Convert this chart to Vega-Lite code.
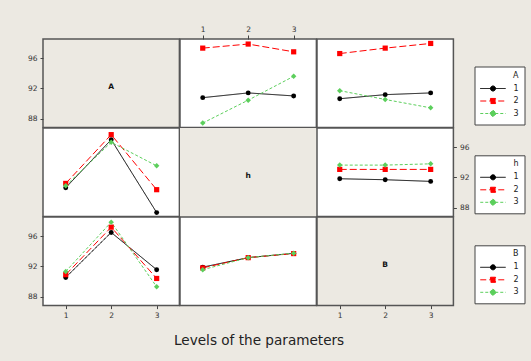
{
  "$schema": "https://vega.github.io/schema/vega-lite/v6.json",
  "background": "#ECE9E2",
  "padding": {"left": 26, "top": 24, "right": 15, "bottom": 20},
  "datasets": {
    "d": [
      {"panel": "r1c2", "lev": "1", "x": 1, "y": 90.77},
      {"panel": "r1c2", "lev": "1", "x": 2, "y": 91.4},
      {"panel": "r1c2", "lev": "1", "x": 3, "y": 91.0},
      {"panel": "r1c2", "lev": "2", "x": 1, "y": 97.34},
      {"panel": "r1c2", "lev": "2", "x": 2, "y": 97.88},
      {"panel": "r1c2", "lev": "2", "x": 3, "y": 96.85},
      {"panel": "r1c2", "lev": "3", "x": 1, "y": 87.4},
      {"panel": "r1c2", "lev": "3", "x": 2, "y": 90.44},
      {"panel": "r1c2", "lev": "3", "x": 3, "y": 93.6},
      {"panel": "r1c3", "lev": "1", "x": 1, "y": 90.63},
      {"panel": "r1c3", "lev": "1", "x": 2, "y": 91.17},
      {"panel": "r1c3", "lev": "1", "x": 3, "y": 91.4},
      {"panel": "r1c3", "lev": "2", "x": 1, "y": 96.62},
      {"panel": "r1c3", "lev": "2", "x": 2, "y": 97.34},
      {"panel": "r1c3", "lev": "2", "x": 3, "y": 97.96},
      {"panel": "r1c3", "lev": "3", "x": 1, "y": 91.7},
      {"panel": "r1c3", "lev": "3", "x": 2, "y": 90.53},
      {"panel": "r1c3", "lev": "3", "x": 3, "y": 89.42},
      {"panel": "r2c1", "lev": "1", "x": 1, "y": 90.63},
      {"panel": "r2c1", "lev": "1", "x": 2, "y": 97.0},
      {"panel": "r2c1", "lev": "1", "x": 3, "y": 87.33},
      {"panel": "r2c1", "lev": "2", "x": 1, "y": 91.2},
      {"panel": "r2c1", "lev": "2", "x": 2, "y": 97.67},
      {"panel": "r2c1", "lev": "2", "x": 3, "y": 90.37},
      {"panel": "r2c1", "lev": "3", "x": 1, "y": 90.9},
      {"panel": "r2c1", "lev": "3", "x": 2, "y": 96.66},
      {"panel": "r2c1", "lev": "3", "x": 3, "y": 93.53},
      {"panel": "r2c3", "lev": "1", "x": 1, "y": 91.82},
      {"panel": "r2c3", "lev": "1", "x": 2, "y": 91.69},
      {"panel": "r2c3", "lev": "1", "x": 3, "y": 91.47},
      {"panel": "r2c3", "lev": "2", "x": 1, "y": 93.06},
      {"panel": "r2c3", "lev": "2", "x": 2, "y": 93.06},
      {"panel": "r2c3", "lev": "2", "x": 3, "y": 93.06},
      {"panel": "r2c3", "lev": "3", "x": 1, "y": 93.63},
      {"panel": "r2c3", "lev": "3", "x": 2, "y": 93.63},
      {"panel": "r2c3", "lev": "3", "x": 3, "y": 93.8},
      {"panel": "r3c1", "lev": "1", "x": 1, "y": 90.53},
      {"panel": "r3c1", "lev": "1", "x": 2, "y": 96.5},
      {"panel": "r3c1", "lev": "1", "x": 3, "y": 91.56},
      {"panel": "r3c1", "lev": "2", "x": 1, "y": 90.9},
      {"panel": "r3c1", "lev": "2", "x": 2, "y": 97.2},
      {"panel": "r3c1", "lev": "2", "x": 3, "y": 90.4},
      {"panel": "r3c1", "lev": "3", "x": 1, "y": 91.33},
      {"panel": "r3c1", "lev": "3", "x": 2, "y": 97.87},
      {"panel": "r3c1", "lev": "3", "x": 3, "y": 89.3},
      {"panel": "r3c2", "lev": "1", "x": 1, "y": 91.9},
      {"panel": "r3c2", "lev": "1", "x": 2, "y": 93.16},
      {"panel": "r3c2", "lev": "1", "x": 3, "y": 93.73},
      {"panel": "r3c2", "lev": "2", "x": 1, "y": 91.8},
      {"panel": "r3c2", "lev": "2", "x": 2, "y": 93.16},
      {"panel": "r3c2", "lev": "2", "x": 3, "y": 93.7},
      {"panel": "r3c2", "lev": "3", "x": 1, "y": 91.56},
      {"panel": "r3c2", "lev": "3", "x": 2, "y": 93.16},
      {"panel": "r3c2", "lev": "3", "x": 3, "y": 93.75}
    ]
  },
  "columns": 3,
  "spacing": 0,
  "bounds": "flush",
  "resolve": {
    "scale": {"color": "independent", "shape": "independent", "strokeDash": "independent", "size": "independent", "fill": "independent", "stroke": "independent"},
    "legend": {"color": "independent", "shape": "independent", "strokeDash": "independent", "size": "independent", "fill": "independent", "stroke": "independent"}
  },
  "concat": [
    {
      "width": 136.4, "height": 88.6,
      "view": {"fill": "#ECE9E2"},
      "data": {"values": [{"label": "A"}]},
      "mark": {"type": "text", "fontWeight": "bold", "fontSize": 7.5, "font": "DejaVu Sans", "color": "#111", "dy": -1},
      "encoding": {
        "text": {"field": "label"},
        "y": {"datum": 92, "type": "quantitative", "scale": {"domain": [86.8, 98.55]}, "axis": {"orient": "left", "values": [88, 92, 96], "title": null}}
      }
    },
    {
      "width": 136.4, "height": 88.6,
      "data": {"name": "d"},
      "transform": [{"filter": "datum.panel == 'r1c2'"}],
      "encoding": {
        "x": {"field": "x", "type": "quantitative", "scale": {"domain": [0.5, 3.5]}, "axis": {"orient": "top", "values": [1, 2, 3], "format": "d", "title": null, "tickSize": 4, "labelPadding": 2}},
        "y": {"field": "y", "type": "quantitative", "scale": {"domain": [86.8, 98.55]}, "axis": null},
        "color": {"field": "lev", "type": "nominal", "scale": {"domain": ["1", "2", "3"], "range": ["#000000", "#FF0000", "#5CCF5C"]}, "legend": null}
      },
      "layer": [
        {"mark": {"type": "line", "strokeWidth": 1}, "encoding": {"strokeDash": {"field": "lev", "type": "nominal", "scale": {"domain": ["1", "2", "3"], "range": [[1, 0], [7, 3], [3, 2]]}, "legend": null}}},
        {"mark": {"type": "point", "filled": true, "opacity": 1}, "encoding": {"shape": {"field": "lev", "type": "nominal", "scale": {"domain": ["1", "2", "3"], "range": ["circle", "square", "diamond"]}, "legend": null}, "size": {"field": "lev", "type": "nominal", "scale": {"domain": ["1", "2", "3"], "range": [24, 30, 42]}, "legend": null}}}
      ]
    },
    {
      "width": 136.4, "height": 88.6,
      "view": {"fill": "white"},
      "resolve": {"scale": {"color": "independent", "shape": "independent", "strokeDash": "independent", "size": "independent", "stroke": "independent"}},
      "layer": [
        {
          "data": {"name": "d"},
          "transform": [{"filter": "datum.panel == 'r1c3'"}],
          "mark": {"type": "line", "strokeWidth": 1},
          "encoding": {
            "x": {"field": "x", "type": "quantitative", "scale": {"domain": [0.5, 3.5]}, "axis": null},
            "y": {"field": "y", "type": "quantitative", "scale": {"domain": [86.8, 98.55]}, "axis": null},
            "color": {"field": "lev", "type": "nominal", "scale": {"domain": ["1", "2", "3"], "range": ["#000000", "#FF0000", "#5CCF5C"]}, "legend": null},
            "strokeDash": {"field": "lev", "type": "nominal", "scale": {"domain": ["1", "2", "3"], "range": [[1, 0], [7, 3], [3, 2]]}, "legend": null}
          }
        },
        {
          "data": {"name": "d"},
          "transform": [{"filter": "datum.panel == 'r1c3'"}],
          "mark": {"type": "point", "filled": true, "opacity": 1},
          "encoding": {
            "x": {"field": "x", "type": "quantitative", "scale": {"domain": [0.5, 3.5]}, "axis": null},
            "y": {"field": "y", "type": "quantitative", "scale": {"domain": [86.8, 98.55]}, "axis": null},
            "color": {"field": "lev", "type": "nominal", "scale": {"domain": ["1", "2", "3"], "range": ["#000000", "#FF0000", "#5CCF5C"]}, "legend": null},
            "shape": {"field": "lev", "type": "nominal", "scale": {"domain": ["1", "2", "3"], "range": ["circle", "square", "diamond"]}, "legend": null},
            "size": {"field": "lev", "type": "nominal", "scale": {"domain": ["1", "2", "3"], "range": [24, 30, 42]}, "legend": null}
          }
        },
        {
          "data": {"values": []},
          "mark": {"type": "point", "filled": true, "opacity": 1, "strokeWidth": 1},
          "encoding": {
            "color": {"field": "lev", "type": "nominal", "scale": {"domain": ["1", "2", "3"], "range": ["#000000", "#FF0000", "#5CCF5C"]}, "legend": {"orient": "none", "legendX": 157.5, "legendY": 27.5, "title": "A"}},
            "stroke": {"field": "lev", "type": "nominal", "scale": {"domain": ["1", "2", "3"], "range": ["#000000", "#FF0000", "#5CCF5C"]}, "legend": {"orient": "none", "legendX": 157.5, "legendY": 27.5, "title": "A"}},
            "shape": {"field": "lev", "type": "nominal", "scale": {"domain": ["1", "2", "3"], "range": ["M-1,0L1,0M0.2,0A0.2,0.2,0,1,1,-0.2,0A0.2,0.2,0,1,1,0.2,0Z", "M-1,0L1,0M-0.2,-0.2L0.2,-0.2L0.2,0.2L-0.2,0.2Z", "M-1,0L1,0M0,-0.27L0.27,0L0,0.27L-0.27,0Z"]}, "legend": {"orient": "none", "legendX": 157.5, "legendY": 27.5, "title": "A"}},
            "strokeDash": {"field": "lev", "type": "nominal", "scale": {"domain": ["1", "2", "3"], "range": [[1, 0], [6, 3], [3, 2]]}, "legend": {"orient": "none", "legendX": 157.5, "legendY": 27.5, "title": "A"}}
          }
        }
      ]
    },
    {
      "width": 136.4, "height": 88.6,
      "data": {"name": "d"},
      "transform": [{"filter": "datum.panel == 'r2c1'"}],
      "encoding": {
        "x": {"field": "x", "type": "quantitative", "scale": {"domain": [0.5, 3.5]}, "axis": null},
        "y": {"field": "y", "type": "quantitative", "scale": {"domain": [86.8, 98.55]}, "axis": null},
        "color": {"field": "lev", "type": "nominal", "scale": {"domain": ["1", "2", "3"], "range": ["#000000", "#FF0000", "#5CCF5C"]}, "legend": null}
      },
      "layer": [
        {"mark": {"type": "line", "strokeWidth": 1}, "encoding": {"strokeDash": {"field": "lev", "type": "nominal", "scale": {"domain": ["1", "2", "3"], "range": [[1, 0], [7, 3], [3, 2]]}, "legend": null}}},
        {"mark": {"type": "point", "filled": true, "opacity": 1}, "encoding": {"shape": {"field": "lev", "type": "nominal", "scale": {"domain": ["1", "2", "3"], "range": ["circle", "square", "diamond"]}, "legend": null}, "size": {"field": "lev", "type": "nominal", "scale": {"domain": ["1", "2", "3"], "range": [24, 30, 42]}, "legend": null}}}
      ]
    },
    {
      "width": 136.4, "height": 88.6,
      "view": {"fill": "#ECE9E2"},
      "data": {"values": [{"label": "h"}]},
      "mark": {"type": "text", "fontWeight": "bold", "fontSize": 7.5, "font": "DejaVu Sans", "color": "#111", "dy": 4},
      "encoding": {"text": {"field": "label"}}
    },
    {
      "width": 136.4, "height": 88.6,
      "view": {"fill": "white"},
      "resolve": {"scale": {"color": "independent", "shape": "independent", "strokeDash": "independent", "size": "independent", "stroke": "independent"}},
      "layer": [
        {
          "data": {"name": "d"},
          "transform": [{"filter": "datum.panel == 'r2c3'"}],
          "mark": {"type": "line", "strokeWidth": 1},
          "encoding": {
            "x": {"field": "x", "type": "quantitative", "scale": {"domain": [0.5, 3.5]}, "axis": null},
            "y": {"field": "y", "type": "quantitative", "scale": {"domain": [86.8, 98.55]}, "axis": {"orient": "right", "values": [88, 92, 96], "title": null}},
            "color": {"field": "lev", "type": "nominal", "scale": {"domain": ["1", "2", "3"], "range": ["#000000", "#FF0000", "#5CCF5C"]}, "legend": null},
            "strokeDash": {"field": "lev", "type": "nominal", "scale": {"domain": ["1", "2", "3"], "range": [[1, 0], [7, 3], [3, 2]]}, "legend": null}
          }
        },
        {
          "data": {"name": "d"},
          "transform": [{"filter": "datum.panel == 'r2c3'"}],
          "mark": {"type": "point", "filled": true, "opacity": 1},
          "encoding": {
            "x": {"field": "x", "type": "quantitative", "scale": {"domain": [0.5, 3.5]}, "axis": null},
            "y": {"field": "y", "type": "quantitative", "scale": {"domain": [86.8, 98.55]}, "axis": {"orient": "right", "values": [88, 92, 96], "title": null}},
            "color": {"field": "lev", "type": "nominal", "scale": {"domain": ["1", "2", "3"], "range": ["#000000", "#FF0000", "#5CCF5C"]}, "legend": null},
            "shape": {"field": "lev", "type": "nominal", "scale": {"domain": ["1", "2", "3"], "range": ["circle", "square", "diamond"]}, "legend": null},
            "size": {"field": "lev", "type": "nominal", "scale": {"domain": ["1", "2", "3"], "range": [24, 30, 42]}, "legend": null}
          }
        },
        {
          "data": {"values": []},
          "mark": {"type": "point", "filled": true, "opacity": 1, "strokeWidth": 1},
          "encoding": {
            "color": {"field": "lev", "type": "nominal", "scale": {"domain": ["1", "2", "3"], "range": ["#000000", "#FF0000", "#5CCF5C"]}, "legend": {"orient": "none", "legendX": 157.5, "legendY": 27.3, "title": "h"}},
            "stroke": {"field": "lev", "type": "nominal", "scale": {"domain": ["1", "2", "3"], "range": ["#000000", "#FF0000", "#5CCF5C"]}, "legend": {"orient": "none", "legendX": 157.5, "legendY": 27.3, "title": "h"}},
            "shape": {"field": "lev", "type": "nominal", "scale": {"domain": ["1", "2", "3"], "range": ["M-1,0L1,0M0.2,0A0.2,0.2,0,1,1,-0.2,0A0.2,0.2,0,1,1,0.2,0Z", "M-1,0L1,0M-0.2,-0.2L0.2,-0.2L0.2,0.2L-0.2,0.2Z", "M-1,0L1,0M0,-0.27L0.27,0L0,0.27L-0.27,0Z"]}, "legend": {"orient": "none", "legendX": 157.5, "legendY": 27.3, "title": "h"}},
            "strokeDash": {"field": "lev", "type": "nominal", "scale": {"domain": ["1", "2", "3"], "range": [[1, 0], [6, 3], [3, 2]]}, "legend": {"orient": "none", "legendX": 157.5, "legendY": 27.3, "title": "h"}}
          }
        }
      ]
    },
    {
      "width": 136.4, "height": 88.6,
      "data": {"name": "d"},
      "transform": [{"filter": "datum.panel == 'r3c1'"}],
      "encoding": {
        "x": {"field": "x", "type": "quantitative", "scale": {"domain": [0.5, 3.5]}, "axis": {"orient": "bottom", "values": [1, 2, 3], "format": "d", "title": null}},
        "y": {"field": "y", "type": "quantitative", "scale": {"domain": [86.8, 98.55]}, "axis": {"orient": "left", "values": [88, 92, 96], "title": null}},
        "color": {"field": "lev", "type": "nominal", "scale": {"domain": ["1", "2", "3"], "range": ["#000000", "#FF0000", "#5CCF5C"]}, "legend": null}
      },
      "layer": [
        {"mark": {"type": "line", "strokeWidth": 1}, "encoding": {"strokeDash": {"field": "lev", "type": "nominal", "scale": {"domain": ["1", "2", "3"], "range": [[1, 0], [7, 3], [3, 2]]}, "legend": null}}},
        {"mark": {"type": "point", "filled": true, "opacity": 1}, "encoding": {"shape": {"field": "lev", "type": "nominal", "scale": {"domain": ["1", "2", "3"], "range": ["circle", "square", "diamond"]}, "legend": null}, "size": {"field": "lev", "type": "nominal", "scale": {"domain": ["1", "2", "3"], "range": [24, 30, 42]}, "legend": null}}}
      ]
    },
    {
      "width": 136.4, "height": 88.6,
      "view": {"fill": "white"},
      "resolve": {"scale": {"color": "independent", "shape": "independent", "strokeDash": "independent", "size": "independent", "stroke": "independent"}},
      "layer": [
        {
          "data": {"name": "d"},
          "transform": [{"filter": "datum.panel == 'r3c2'"}],
          "mark": {"type": "line", "strokeWidth": 1},
          "encoding": {
            "x": {"field": "x", "type": "quantitative", "scale": {"domain": [0.5, 3.5]}, "axis": {"orient": "bottom", "labels": false, "ticks": false, "title": "Levels of the parameters", "titleFontSize": 13.6, "titleFontWeight": "normal", "titleColor": "#222", "titlePadding": 28, "titleX": 78.6, "titleBaseline": "top"}},
            "y": {"field": "y", "type": "quantitative", "scale": {"domain": [86.8, 98.55]}, "axis": null},
            "color": {"field": "lev", "type": "nominal", "scale": {"domain": ["1", "2", "3"], "range": ["#000000", "#FF0000", "#5CCF5C"]}, "legend": null},
            "strokeDash": {"field": "lev", "type": "nominal", "scale": {"domain": ["1", "2", "3"], "range": [[1, 0], [7, 3], [3, 2]]}, "legend": null}
          }
        },
        {
          "data": {"name": "d"},
          "transform": [{"filter": "datum.panel == 'r3c2'"}],
          "mark": {"type": "point", "filled": true, "opacity": 1},
          "encoding": {
            "x": {"field": "x", "type": "quantitative", "scale": {"domain": [0.5, 3.5]}},
            "y": {"field": "y", "type": "quantitative", "scale": {"domain": [86.8, 98.55]}, "axis": null},
            "color": {"field": "lev", "type": "nominal", "scale": {"domain": ["1", "2", "3"], "range": ["#000000", "#FF0000", "#5CCF5C"]}, "legend": null},
            "shape": {"field": "lev", "type": "nominal", "scale": {"domain": ["1", "2", "3"], "range": ["circle", "square", "diamond"]}, "legend": null},
            "size": {"field": "lev", "type": "nominal", "scale": {"domain": ["1", "2", "3"], "range": [24, 30, 42]}, "legend": null}
          }
        },
        {
          "data": {"values": []},
          "mark": {"type": "point", "filled": true, "opacity": 1, "strokeWidth": 1},
          "encoding": {
            "color": {"field": "lev", "type": "nominal", "scale": {"domain": ["1", "2", "3"], "range": ["#000000", "#FF0000", "#5CCF5C"]}, "legend": {"orient": "none", "legendX": 294.5, "legendY": 28.3, "title": "B"}},
            "stroke": {"field": "lev", "type": "nominal", "scale": {"domain": ["1", "2", "3"], "range": ["#000000", "#FF0000", "#5CCF5C"]}, "legend": {"orient": "none", "legendX": 294.5, "legendY": 28.3, "title": "B"}},
            "shape": {"field": "lev", "type": "nominal", "scale": {"domain": ["1", "2", "3"], "range": ["M-1,0L1,0M0.2,0A0.2,0.2,0,1,1,-0.2,0A0.2,0.2,0,1,1,0.2,0Z", "M-1,0L1,0M-0.2,-0.2L0.2,-0.2L0.2,0.2L-0.2,0.2Z", "M-1,0L1,0M0,-0.27L0.27,0L0,0.27L-0.27,0Z"]}, "legend": {"orient": "none", "legendX": 294.5, "legendY": 28.3, "title": "B"}},
            "strokeDash": {"field": "lev", "type": "nominal", "scale": {"domain": ["1", "2", "3"], "range": [[1, 0], [6, 3], [3, 2]]}, "legend": {"orient": "none", "legendX": 294.5, "legendY": 28.3, "title": "B"}}
          }
        }
      ]
    },
    {
      "width": 136.4, "height": 88.6,
      "view": {"fill": "#ECE9E2"},
      "data": {"values": [{"label": "B"}]},
      "mark": {"type": "text", "fontWeight": "bold", "fontSize": 7.5, "font": "DejaVu Sans", "color": "#111", "dy": 4},
      "encoding": {
        "text": {"field": "label"},
        "x": {"datum": 2, "type": "quantitative", "scale": {"domain": [0.5, 3.5]}, "axis": {"orient": "bottom", "values": [1, 2, 3], "format": "d", "title": null}}
      }
    }
  ],
  "config": {
    "view": {"stroke": "#555555", "strokeWidth": 1.5, "fill": "white"},
    "axis": {"labelFont": "DejaVu Sans", "labelFontSize": 7.5, "labelColor": "#333333", "tickColor": "#444444", "tickSize": 3, "labelPadding": 3, "domain": false, "grid": false, "titleFont": "DejaVu Sans"},
    "legend": {"titleAnchor": "end", "titleFont": "DejaVu Sans", "titleFontSize": 8, "titleFontWeight": "normal", "titleColor": "#222222", "titlePadding": 3, "labelFont": "DejaVu Sans", "labelFontSize": 8, "labelColor": "#222222", "labelOffset": 7, "padding": 5, "fillColor": "white", "strokeColor": "#444444", "symbolSize": 650, "symbolStrokeWidth": 1, "clipHeight": 12, "rowPadding": 0.5}
  }
}
